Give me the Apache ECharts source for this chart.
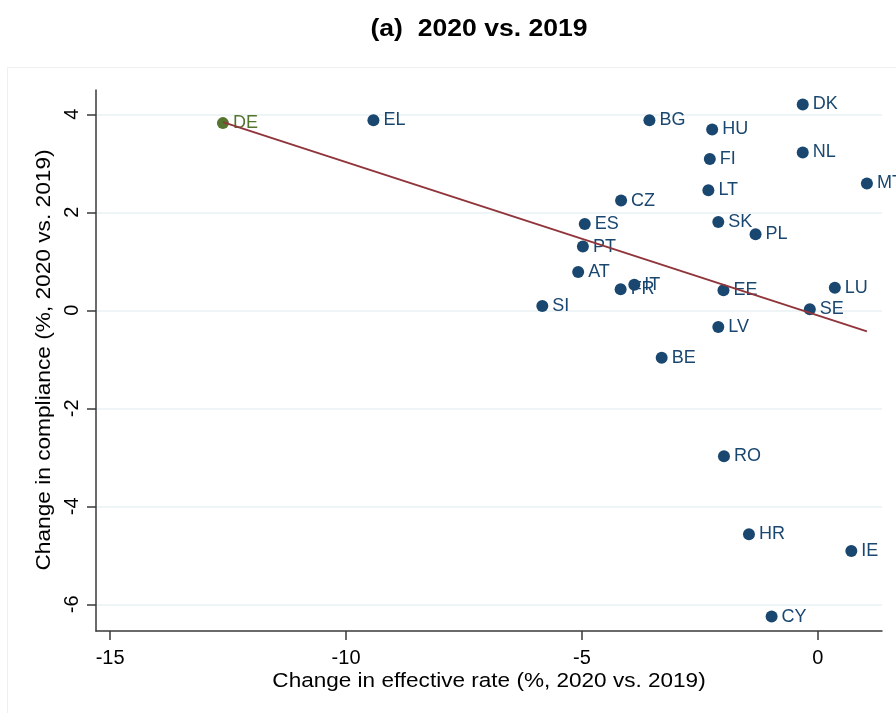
<!DOCTYPE html>
<html>
<head>
<meta charset="utf-8">
<script src="https://cdn.jsdelivr.net/npm/echarts@6/dist/echarts.min.js"></script>
<style>
  html, body { margin: 0; padding: 0; background: #ffffff; }
  #chart { width: 896px; height: 713px; }
</style>
</head>
<body>
<div id="chart"></div>
<script>
// Country codes and their changes (2020 vs. 2019)
const countries = ['EL', 'BG', 'DK', 'HU', 'FI', 'NL', 'MT', 'LT', 'CZ', 'ES', 'SK', 'PL', 'PT', 'AT',
                   'IT', 'FR', 'EE', 'LU', 'SI', 'SE', 'LV', 'BE', 'RO', 'HR', 'IE', 'CY'];
const effectiveRateChange = [-9.42, -3.57, -0.32, -2.24, -2.29, -0.32, 1.04, -2.32, -4.17, -4.94, -2.11, -1.32, -4.98, -5.08,
                             -3.89, -4.18, -2.00, 0.36, -5.84, -0.17, -2.11, -3.31, -1.99, -1.46, 0.71, -0.98];
const complianceChange = [3.88, 3.88, 4.20, 3.69, 3.09, 3.22, 2.59, 2.45, 2.24, 1.76, 1.80, 1.55, 1.30, 0.78,
                          0.52, 0.43, 0.41, 0.46, 0.09, 0.02, -0.34, -0.97, -2.98, -4.57, -4.91, -6.25];

// Highlighted country
const highlightName = ['DE'];
const highlightX = [-12.61];
const highlightY = [3.82];

// Fitted line end points (effective rate, compliance)
const fitX = [-12.61, 1.04];
const fitY = [3.84, -0.43];

// Tick values
const xTicks = [-15, -10, -5, 0];
const yTicks = [-6, -4, -2, 0, 2, 4];

// Texts
const titleText = '(a)  2020 vs. 2019';
const xTitle = 'Change in effective rate (%, 2020 vs. 2019)';
const yTitle = 'Change in compliance (%, 2020 vs. 2019)';

const NAVY = '#1a476f';
const GREEN = '#55752f';
const MAROON = '#90353b';
const FONT = '"Liberation Sans", Arial, sans-serif';

const mainPoints = countries.map((c, i) => ({ name: c, value: [effectiveRateChange[i], complianceChange[i]] }));
const hiPoints = highlightName.map((c, i) => ({ name: c, value: [highlightX[i], highlightY[i]] }));
const fitPoints = fitX.map((x, i) => [x, fitY[i]]);

const chart = echarts.init(document.getElementById('chart'), null, { renderer: 'canvas' });

const labelStyle = color => ({
  show: true,
  position: 'right',
  distance: 4,
  formatter: p => p.name,
  fontFamily: FONT,
  fontSize: 18,
  color: color
});

chart.setOption({
  backgroundColor: '#ffffff',
  animation: false,
  graphic: [
    {
      type: 'rect',
      shape: { x: 7.5, y: 67.5, width: 900, height: 660 },
      style: { fill: 'none', stroke: '#efefef', lineWidth: 1 },
      silent: true,
      z: -10
    },
    {
      type: 'text',
      x: 479, y: 30,
      scaleX: 1.13,
      style: {
        text: titleText,
        font: 'bold 23.5px ' + FONT,
        fill: '#000000',
        align: 'center',
        verticalAlign: 'middle'
      },
      silent: true
    },
    {
      type: 'text',
      x: 489, y: 681,
      scaleX: 1.1,
      style: {
        text: xTitle,
        font: '20.5px ' + FONT,
        fill: '#000000',
        align: 'center',
        verticalAlign: 'middle'
      },
      silent: true
    },
    {
      type: 'text',
      x: 44, y: 360,
      rotation: Math.PI / 2,
      scaleX: 1.08,
      style: {
        text: yTitle,
        font: '21px ' + FONT,
        fill: '#000000',
        align: 'center',
        verticalAlign: 'middle'
      },
      silent: true
    }
  ],
  grid: { left: 96, right: 14, top: 90, bottom: 82, containLabel: false },
  xAxis: {
    type: 'value',
    min: -15.3,
    max: 1.36,
    axisLine: { show: true, onZero: false, lineStyle: { color: '#3a3a3a', width: 1.5 } },
    axisTick: { show: true, length: 9, customValues: xTicks, lineStyle: { color: '#3a3a3a', width: 1.5 } },
    axisLabel: { customValues: xTicks, margin: 17, fontFamily: FONT, fontSize: 20, color: '#000000' },
    splitLine: { show: false }
  },
  yAxis: {
    type: 'value',
    min: -6.545,
    max: 4.496,
    axisLine: { show: true, onZero: false, lineStyle: { color: '#3a3a3a', width: 1.5 } },
    axisTick: { show: true, length: 9, customValues: yTicks, lineStyle: { color: '#3a3a3a', width: 1.5 } },
    axisLabel: { customValues: yTicks, rotate: 90, margin: 14, fontFamily: FONT, fontSize: 20, color: '#000000' },
    splitLine: { show: true, lineStyle: { color: '#eaf2f3', width: 1.5 } }
  },
  series: [
    {
      type: 'scatter',
      data: mainPoints,
      symbol: 'circle',
      symbolSize: 12,
      itemStyle: { color: NAVY, opacity: 1 },
      label: labelStyle(NAVY),
      z: 2
    },
    {
      type: 'scatter',
      data: hiPoints,
      symbol: 'circle',
      symbolSize: 12,
      itemStyle: { color: GREEN, opacity: 1 },
      label: labelStyle(GREEN),
      z: 2
    },
    {
      type: 'line',
      data: fitPoints,
      symbol: 'none',
      lineStyle: { color: MAROON, width: 2 },
      z: 3
    }
  ]
});
</script>
</body>
</html>
